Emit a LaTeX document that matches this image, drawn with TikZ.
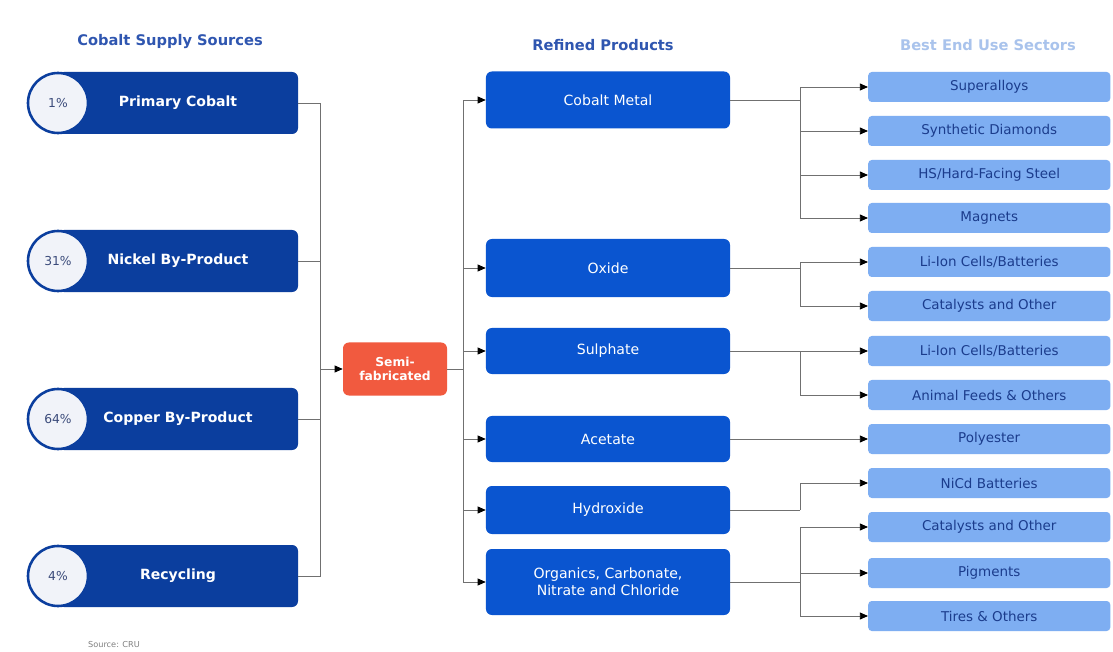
\documentclass[tikz,border=0pt]{standalone}
\usepackage{fontspec}
\setmainfont{DejaVu Sans}
\usetikzlibrary{arrows.meta}
\definecolor{srcblue}{HTML}{0B3E9E}
\definecolor{refblue}{HTML}{0A55D0}
\definecolor{useblue}{HTML}{7EAEF2}
\definecolor{usetext}{HTML}{1B3C8C}
\definecolor{semired}{HTML}{F15A3F}
\definecolor{linegray}{HTML}{707070}
\definecolor{titleblue}{HTML}{2F56B0}
\definecolor{titlelight}{HTML}{A9C3EC}
\definecolor{pctfill}{HTML}{F1F3F9}
\definecolor{pcttext}{HTML}{3A4A7A}

\tikzset{
	srcbox/.style={fill=srcblue, rounded corners=5pt, minimum width=7.2cm, minimum height=1.86cm, text=white, font=\fontsize{12}{14}\selectfont\bfseries},
	pctcircle/.style={circle, draw=srcblue, line width=2.2pt, fill=pctfill, minimum size=1.8cm, text=pcttext, font=\fontsize{10.5}{12}\selectfont},
	refbox/.style={fill=refblue, rounded corners=5pt, minimum width=7.32cm, text=white, align=center, font=\fontsize{12}{14.5}\selectfont},
	usebox/.style={fill=useblue, rounded corners=3pt, minimum width=7.26cm, minimum height=0.9cm, anchor=west, text=usetext, font=\fontsize{11.5}{13}\selectfont},
	semibox/.style={fill=semired, rounded corners=5pt, minimum width=3.12cm, minimum height=1.59cm, text=white, align=center, font=\fontsize{10.5}{12}\selectfont\bfseries},
	title/.style={font=\fontsize{12.5}{14}\selectfont\bfseries},
	link/.style={draw=linegray, line width=0.8pt},
	>={Triangle[length=7pt,width=6pt,color=black]}
}

% source box: name, y, percentage, label
\newcommand{\source}[4]
{
	\node[srcbox] (#1) at (178,#2) {#4};
	\node[pctcircle] (#1pct) at (58,#2) {#3};
}

\begin{document}
\begin{tikzpicture}[x=0.03cm, y=-0.03cm]
	\useasboundingbox[fill=white] (0,0) rectangle (1113,652);

	% column titles
	\node[title, text=titleblue] (tsrc) at (170,42) {Cobalt Supply Sources};
	\node[title, text=titleblue] (tref) at (603,45) {Refined Products};
	\node[title, text=titlelight] (tuse) at (988,45) {Best End Use Sectors};

	% supply sources
	\source{primary}{103}{1\%}{Primary Cobalt};
	\source{nickel}{261}{31\%}{Nickel By-Product};
	\source{copper}{419}{64\%}{Copper By-Product};
	\source{recycling}{576}{4\%}{Recycling};

	% semi-fabricated
	\node[semibox] (semi) at (395,369) {Semi-\\fabricated};

	% refined products
	\node[refbox, minimum height=1.71cm] (metal) at (608,100) {Cobalt Metal};
	\node[refbox, minimum height=1.74cm] (oxide) at (608,268) {Oxide};
	\node[refbox, minimum height=1.38cm] (sulphate) at (608,351) {Sulphate};
	\node[refbox, minimum height=1.38cm] (acetate) at (608,439) {Acetate};
	\node[refbox, minimum height=1.44cm] (hydroxide) at (608,510) {Hydroxide};
	\node[refbox, minimum height=1.98cm] (organics) at (608,582) {Organics, Carbonate,\\Nitrate and Chloride};

	% end use sectors
	\node[usebox] (superalloys) at (868,87) {Superalloys};
	\node[usebox] (diamonds) at (868,131) {Synthetic Diamonds};
	\node[usebox] (steel) at (868,175) {HS/Hard-Facing Steel};
	\node[usebox] (magnets) at (868,218) {Magnets};
	\node[usebox] (liion1) at (868,262) {Li-Ion Cells/Batteries};
	\node[usebox] (catalysts1) at (868,306) {Catalysts and Other};
	\node[usebox] (liion2) at (868,351) {Li-Ion Cells/Batteries};
	\node[usebox] (feeds) at (868,395) {Animal Feeds \& Others};
	\node[usebox] (polyester) at (868,439) {Polyester};
	\node[usebox] (nicd) at (868,483) {NiCd Batteries};
	\node[usebox] (catalysts2) at (868,527) {Catalysts and Other};
	\node[usebox] (pigments) at (868,573) {Pigments};
	\node[usebox] (tires) at (868,616) {Tires \& Others};

	% junctions
	\coordinate (jsrc) at (320,369);
	\coordinate (jsemi) at (463,369);
	\coordinate (jmetal) at (800,100);
	\coordinate (joxide) at (800,268);
	\coordinate (jsulphate) at (800,351);
	\coordinate (jhydroxide) at (800,510);
	\coordinate (jorganics) at (800,582);

	% sources to semi-fabricated
	\draw[link] (primary.east) -| (jsrc);
	\draw[link] (nickel.east) -| (jsrc);
	\draw[link] (copper.east) -| (jsrc);
	\draw[link] (recycling.east) -| (jsrc);
	\draw[link, ->] (jsrc) -- (semi.west);

	% semi-fabricated to refined products
	\draw[link] (semi.east) -- (jsemi);
	\draw[link, ->] (jsemi) |- (metal.west);
	\draw[link, ->] (jsemi) |- (oxide.west);
	\draw[link, ->] (jsemi) |- (sulphate.west);
	\draw[link, ->] (jsemi) |- (acetate.west);
	\draw[link, ->] (jsemi) |- (hydroxide.west);
	\draw[link, ->] (jsemi) |- (organics.west);

	% refined products to end uses
	\draw[link] (metal.east) -- (jmetal);
	\draw[link, ->] (jmetal) |- (superalloys.west);
	\draw[link, ->] (jmetal) |- (diamonds.west);
	\draw[link, ->] (jmetal) |- (steel.west);
	\draw[link, ->] (jmetal) |- (magnets.west);

	\draw[link] (oxide.east) -- (joxide);
	\draw[link, ->] (joxide) |- (liion1.west);
	\draw[link, ->] (joxide) |- (catalysts1.west);

	\draw[link] (sulphate.east) -- (jsulphate);
	\draw[link, ->] (jsulphate) -- (liion2.west);
	\draw[link, ->] (jsulphate) |- (feeds.west);

	\draw[link, ->] (acetate.east) -- (polyester.west);

	\draw[link] (hydroxide.east) -- (jhydroxide);
	\draw[link, ->] (jhydroxide) |- (nicd.west);

	\draw[link] (organics.east) -- (jorganics);
	\draw[link, ->] (jorganics) |- (catalysts2.west);
	\draw[link, ->] (jorganics) |- (pigments.west);
	\draw[link, ->] (jorganics) |- (tires.west);

	% source note
	\node[text=gray, font=\fontsize{7}{8}\selectfont] (note) at (114,645) {Source: CRU};
\end{tikzpicture}
\end{document}
